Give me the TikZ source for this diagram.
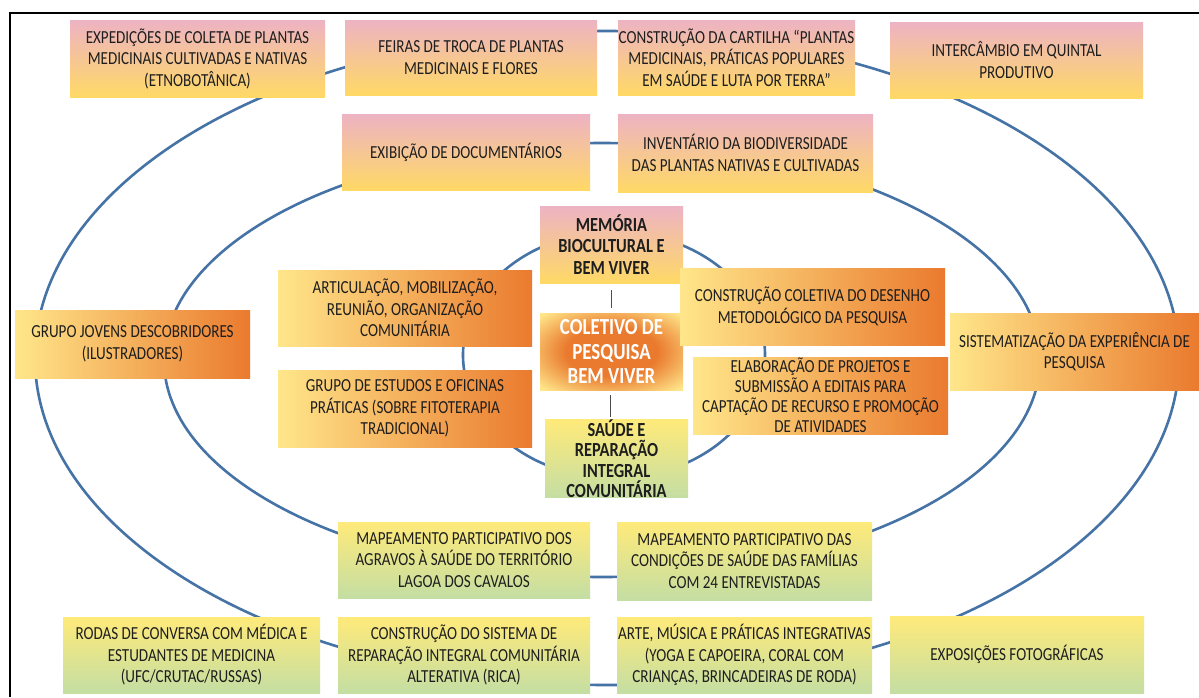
\documentclass[tikz,border=0pt]{standalone}
\usepackage{fontspec}
\setmainfont{Carlito}[FakeStretch=0.82]
\usetikzlibrary{calc}
\definecolor{pinkc}{HTML}{EDB3C3}
\definecolor{peachc}{HTML}{F6C79A}
\definecolor{goldc}{HTML}{FFD966}
\definecolor{paley}{HTML}{FFE68A}
\definecolor{orangec}{HTML}{EA7A2E}
\definecolor{yelc}{HTML}{FFEA7A}
\definecolor{greenmid}{HTML}{D2E39E}
\definecolor{greenc}{HTML}{C4DEA3}
\definecolor{ringc}{HTML}{4673A6}
\definecolor{txt}{HTML}{1E1E1E}
\pgfdeclareradialshading{coreshade}{\pgfpoint{0bp}{0bp}}{color(0bp)=(orangec); color(16bp)=(orangec); color(34bp)=(paley); color(50bp)=(paley)}
\begin{document}
\begin{tikzpicture}[x=1pt,y=-1pt,
  base/.style={inner sep=0pt, align=center, text=txt, font=\fontsize{18.4}{21.5}\selectfont},
  pinkbox/.style={base, top color=pinkc, middle color=peachc, bottom color=goldc},
  orbox/.style={base, left color=paley, right color=orangec},
  grbox/.style={base, top color=yelc, middle color=greenmid, bottom color=greenc},
  corebold/.style={font=\fontsize{20}{21.5}\selectfont\bfseries},
  ring/.style={draw=ringc, line width=2.6pt},
  link/.style={draw=black!70, line width=0.9pt}]
\useasboundingbox (0,0) rectangle (1199,697);
\fill[white] (0,0) rectangle (1199,697);
% frame
\draw[line width=1.6pt] (10,697) -- (10,13) -- (1199,13);
% rings
\draw[ring] (607,358) ellipse [x radius=572pt, y radius=327pt];
\draw[ring] (602,360) ellipse [x radius=438pt, y radius=217pt];
\draw[ring] (614,355) ellipse [x radius=151pt, y radius=123pt];
% top row
\node[pinkbox, minimum width=255pt, minimum height=77pt] (b1) at (197.5,58.5) {EXPEDIÇÕES DE COLETA DE PLANTAS\\MEDICINAIS CULTIVADAS E NATIVAS\\(ETNOBOTÂNICA)};
\node[pinkbox, minimum width=252pt, minimum height=75pt] (b2) at (471,57.5) {FEIRAS DE TROCA DE PLANTAS\\MEDICINAIS E FLORES};
\node[pinkbox, minimum width=237pt, minimum height=75pt] (b3) at (736.5,57.5) {CONSTRUÇÃO DA CARTILHA “PLANTAS\\MEDICINAIS, PRÁTICAS POPULARES\\EM SAÚDE E LUTA POR TERRA”};
\node[pinkbox, minimum width=253pt, minimum height=76pt] (b4) at (1016.5,60) {INTERCÂMBIO EM QUINTAL\\PRODUTIVO};
% second row
\node[pinkbox, minimum width=248pt, minimum height=76pt] (b5) at (466,152) {EXIBIÇÃO DE DOCUMENTÁRIOS};
\node[pinkbox, minimum width=255pt, minimum height=78pt] (b6) at (745.5,153) {INVENTÁRIO DA BIODIVERSIDADE\\DAS PLANTAS NATIVAS E CULTIVADAS};
% core
\node[pinkbox, corebold, minimum width=143pt, minimum height=77pt] (c1) at (611.5,244.5) {MEMÓRIA\\BIOCULTURAL E\\BEM VIVER};
\node[base, shading=coreshade, text=white, font=\fontsize{23}{24.5}\selectfont\bfseries, minimum width=143pt, minimum height=77pt] (c2) at (611.5,351.5) {COLETIVO DE\\PESQUISA\\BEM VIVER};
\node[grbox, corebold, font=\fontsize{20}{20.5}\selectfont\bfseries, minimum width=143pt, minimum height=77pt] (c3) at (616.5,458.5) {SAÚDE E\\REPARAÇÃO\\INTEGRAL\\COMUNITÁRIA};
\draw[link] ($(c1.south)+(0,7)$) -- ($(c2.north)+(0,-5)$);
\draw[link] ($(c2.south)+(-1.5,5)$) -- ($(c3.north)+(-6.5,-2)$);
% left middle
\node[orbox, minimum width=254pt, minimum height=76pt] (l1) at (405,308) {ARTICULAÇÃO, MOBILIZAÇÃO,\\REUNIÃO, ORGANIZAÇÃO\\COMUNITÁRIA};
\node[orbox, minimum width=254pt, minimum height=77pt] (l2) at (405,408.5) {GRUPO DE ESTUDOS E OFICINAS\\PRÁTICAS (SOBRE FITOTERAPIA\\TRADICIONAL)};
\node[orbox, minimum width=235pt, minimum height=68pt] (gj) at (132.5,344) {GRUPO JOVENS DESCOBRIDORES\\(ILUSTRADORES)};
% right middle
\node[orbox, minimum width=265pt, minimum height=77pt] (r1) at (812.5,306.5) {CONSTRUÇÃO COLETIVA DO DESENHO\\METODOLÓGICO DA PESQUISA};
\node[orbox, font=\fontsize{18.4}{20}\selectfont, minimum width=255pt, minimum height=77pt] (r2) at (820.5,395.5) {ELABORAÇÃO DE PROJETOS E\\SUBMISSÃO A EDITAIS PARA\\CAPTAÇÃO DE RECURSO E PROMOÇÃO\\DE ATIVIDADES};
\node[orbox, minimum width=249pt, minimum height=77pt] (sis) at (1074.5,351.5) {SISTEMATIZAÇÃO DA EXPERIÊNCIA DE\\PESQUISA};
% lower rows
\node[grbox, minimum width=252pt, minimum height=76pt] (m1) at (464,560) {MAPEAMENTO PARTICIPATIVO DOS\\AGRAVOS À SAÚDE DO TERRITÓRIO\\LAGOA DOS CAVALOS};
\node[grbox, minimum width=255pt, minimum height=78pt] (m2) at (744.5,561) {MAPEAMENTO PARTICIPATIVO DAS\\CONDIÇÕES DE SAÚDE DAS FAMÍLIAS\\COM 24 ENTREVISTADAS};
\node[grbox, minimum width=257pt, minimum height=76pt] (ro) at (191.5,655) {RODAS DE CONVERSA COM MÉDICA E\\ESTUDANTES DE MEDICINA\\(UFC/CRUTAC/RUSSAS)};
\node[grbox, minimum width=252pt, minimum height=76pt] (cs) at (464,655) {CONSTRUÇÃO DO SISTEMA DE\\REPARAÇÃO INTEGRAL COMUNITÁRIA\\ALTERATIVA (RICA)};
\node[grbox, minimum width=255pt, minimum height=76pt] (ar) at (744.5,655) {ARTE, MÚSICA E PRÁTICAS INTEGRATIVAS\\(YOGA E CAPOEIRA, CORAL COM\\CRIANÇAS, BRINCADEIRAS DE RODA)};
\node[grbox, minimum width=254pt, minimum height=77pt] (ex) at (1017,654.5) {EXPOSIÇÕES FOTOGRÁFICAS};
\end{tikzpicture}
\end{document}
